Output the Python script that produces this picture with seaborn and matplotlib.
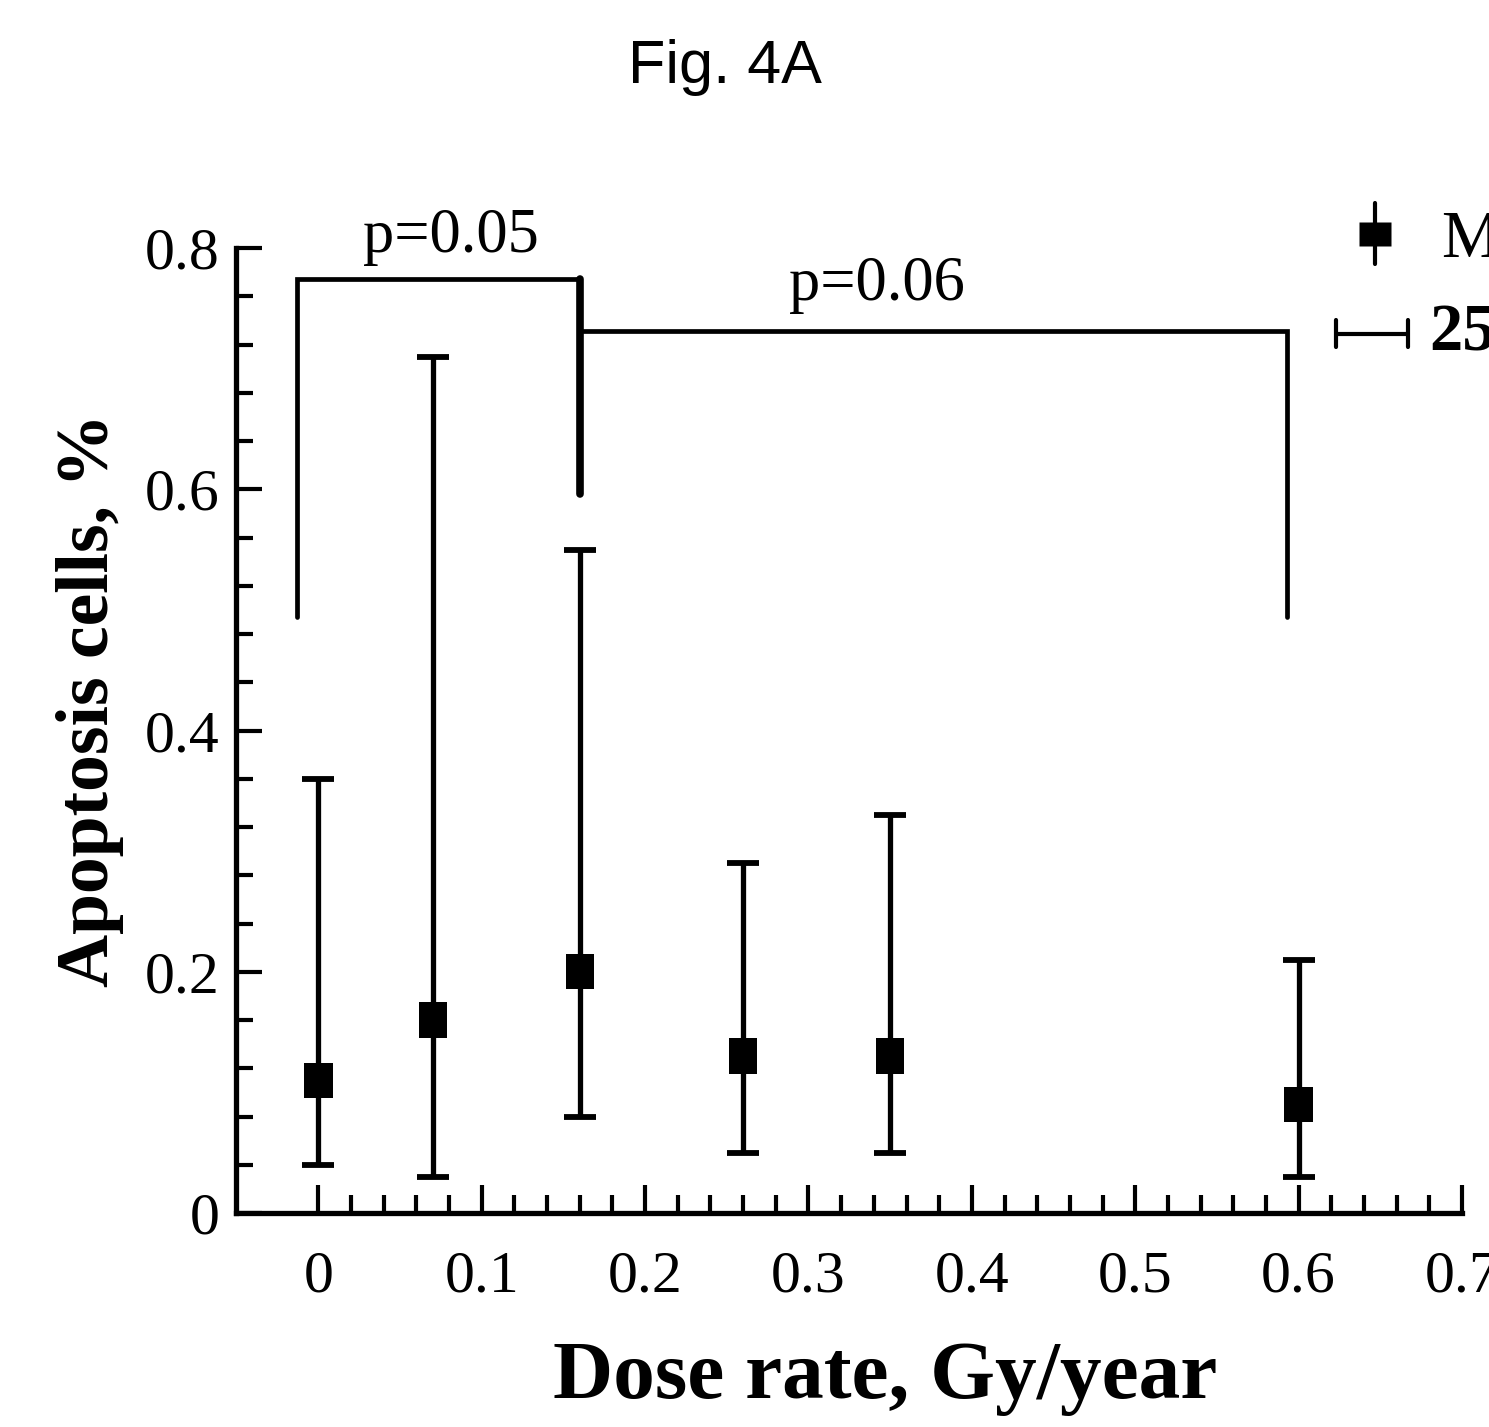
import numpy as np
import pandas as pd
import matplotlib
matplotlib.use("Agg")
import matplotlib.pyplot as plt
import seaborn as sns
from matplotlib.ticker import FixedLocator, MultipleLocator
from matplotlib.path import Path

# ---- data ----
dose_rate = [0.0, 0.07, 0.16, 0.26, 0.35, 0.60]
median = [0.11, 0.16, 0.20, 0.13, 0.13, 0.09]
q25 = [0.04, 0.03, 0.08, 0.05, 0.05, 0.03]
q75 = [0.36, 0.71, 0.55, 0.29, 0.33, 0.21]

x_ticks = [0, 0.1, 0.2, 0.3, 0.4, 0.5, 0.6, 0.7]
x_tick_labels = ["0", "0.1", "0.2", "0.3", "0.4", "0.5", "0.6", "0.7"]
x_minor_ticks = [i / 50 for i in range(0, 36)]
y_ticks = [0, 0.2, 0.4, 0.6, 0.8]
y_tick_labels = ["0", "0.2", "0.4", "0.6", "0.8"]

# significance brackets
bracket1 = dict(x0=-0.013, x1=0.16, top=0.774, y0=0.494, y1=0.596, label="p=0.05")
bracket2 = dict(x0=0.16, x1=0.593, top=0.731, y1=0.494, label="p=0.06")

legend_labels = ["Median", "25%-75%"]

df = pd.DataFrame({"dose": dose_rate, "median": median, "q25": q25, "q75": q75})

sns.set_theme(style="ticks")
plt.rcParams["font.family"] = ["Liberation Serif", "DejaVu Serif"]
plt.rcParams["text.color"] = "black"
plt.rcParams["axes.labelcolor"] = "black"
plt.rcParams["xtick.color"] = "black"
plt.rcParams["ytick.color"] = "black"

W, H = 1489, 1427
fig = plt.figure(figsize=(W / 100, H / 100), dpi=100)
ax_left, ax_right, ax_bottom, ax_top = 236, 1462, 1213, 248
ax = fig.add_axes([ax_left / W, 1 - ax_bottom / H, (ax_right - ax_left) / W, (ax_bottom - ax_top) / H])

# error bars (25-75%)
ax.errorbar(df["dose"], df["median"],
            yerr=[df["median"] - df["q25"], df["q75"] - df["median"]],
            fmt="none", ecolor="black", elinewidth=3.8, capsize=11.5, capthick=4.2, zorder=2)

# median markers (slightly tall squares)
sq = Path([(-0.4, -0.5), (0.4, -0.5), (0.4, 0.5), (-0.4, 0.5), (-0.4, -0.5)],
          [Path.MOVETO, Path.LINETO, Path.LINETO, Path.LINETO, Path.CLOSEPOLY])
sns.scatterplot(data=df, x="dose", y="median", marker=sq, s=650, color="black",
                edgecolor="none", linewidth=0, zorder=3, ax=ax, legend=False)

# brackets
ax.plot([bracket1["x0"], bracket1["x0"], bracket1["x1"], bracket1["x1"]],
        [bracket1["y0"], bracket1["top"], bracket1["top"], bracket1["y1"]],
        color="black", lw=3.4, solid_joinstyle="miter", clip_on=False)
ax.plot([bracket1["x1"], bracket1["x1"]], [bracket1["top"], bracket1["y1"]],
        color="black", lw=5.5, clip_on=False)
ax.plot([bracket2["x0"], bracket2["x1"], bracket2["x1"]],
        [bracket2["top"], bracket2["top"], bracket2["y1"]],
        color="black", lw=3.4, solid_joinstyle="miter", clip_on=False)
ax.text(0.081, 0.797, bracket1["label"], ha="center", va="baseline", fontsize=45,
        color="black", clip_on=False)
ax.text(0.342, 0.757, bracket2["label"], ha="center", va="baseline", fontsize=45,
        color="black", clip_on=False)

# legend (partially cut by the figure edge, as in the reference)
wide = Path([(-0.5, -0.39), (0.5, -0.39), (0.5, 0.39), (-0.5, 0.39), (-0.5, -0.39)],
            [Path.MOVETO, Path.LINETO, Path.LINETO, Path.LINETO, Path.CLOSEPOLY])
ax.plot([0.647, 0.647], [0.787, 0.837], color="black", lw=3.0, clip_on=False)
ax.plot([0.647], [0.812], marker=wide, markersize=23, color="black", clip_on=False, mec="none")
ax.text(0.687, 0.806, legend_labels[0], ha="left", va="center", fontsize=48,
        color="black", clip_on=False)
ax.plot([0.623, 0.667], [0.729, 0.729], color="black", lw=3.0, clip_on=False)
ax.plot([0.623, 0.623], [0.718, 0.740], color="black", lw=3.0, clip_on=False)
ax.plot([0.667, 0.667], [0.718, 0.740], color="black", lw=3.0, clip_on=False)
ax.text(0.680, 0.729, legend_labels[1], ha="left", va="center", fontsize=48,
        fontweight="bold", color="black", clip_on=False)

# axes styling
ax.set_xlim(-0.0504, 0.7)
ax.set_ylim(0, 0.8)
ax.set_xticks(x_ticks)
ax.set_xticklabels(x_tick_labels, fontsize=43)
ax.set_yticks(y_ticks)
ax.set_yticklabels(y_tick_labels, fontsize=43)
ax.xaxis.set_minor_locator(FixedLocator(x_minor_ticks))
ax.yaxis.set_minor_locator(MultipleLocator(0.04))
ax.tick_params(axis="x", which="major", direction="in", length=20, width=3, pad=27,
               colors="black", labelcolor="black")
ax.tick_params(axis="x", which="minor", direction="in", length=13, width=3, colors="black")
ax.tick_params(axis="y", which="major", direction="in", length=19, width=3, pad=12,
               colors="black", labelcolor="black")
ax.tick_params(axis="y", which="minor", direction="in", length=12, width=3, colors="black")
for s in ["top", "right"]:
    ax.spines[s].set_visible(False)
for s in ["left", "bottom"]:
    ax.spines[s].set_linewidth(3.8)
    ax.spines[s].set_color("black")
ax.set_facecolor("white")

ax.set_xlabel("Dose rate, Gy/year", fontsize=60, fontweight="bold", color="black")
ax.xaxis.label.set_va("center")
ax.xaxis.set_label_coords((885 - ax_left) / (ax_right - ax_left), -(1378 - ax_bottom) / (ax_bottom - ax_top))
ax.set_ylabel("Apoptosis cells, %", fontsize=53, fontweight="bold", color="black")
ax.yaxis.label.set_va("center")
ax.yaxis.set_label_coords((90 - ax_left) / (ax_right - ax_left), (ax_bottom - 700) / (ax_bottom - ax_top))

fig.text(725 / W, 1 - 68 / H, "Fig. 4A", ha="center", va="center", fontsize=44,
         color="black", family=["Liberation Sans", "DejaVu Sans"])

fig.savefig("out.png", dpi=100, facecolor="white")
